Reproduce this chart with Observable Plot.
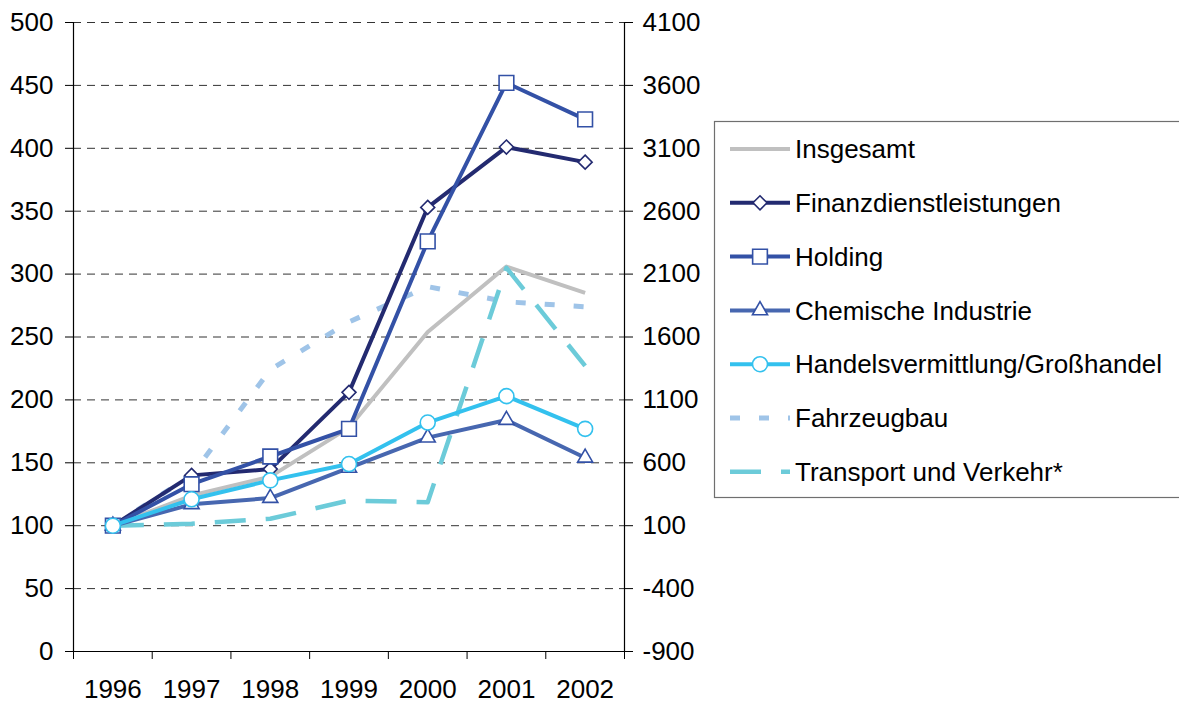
<!DOCTYPE html>
<html>
<head>
<meta charset="utf-8">
<script src="https://cdn.jsdelivr.net/npm/d3@7"></script>
<script src="https://cdn.jsdelivr.net/npm/@observablehq/plot@0.6"></script>
<style>
  html, body { margin: 0; padding: 0; background: #fff; }
  #chart { width: 1179px; height: 702px; }
</style>
</head>
<body>
<div id="chart"></div>
<script>
// ---- data ----
const years = [1996, 1997, 1998, 1999, 2000, 2001, 2002];
const insgesamt = [100, 124, 139, 178, 254, 306, 285];
const finanz = [100, 140, 145, 206, 353, 401, 389];
const holding = [100, 133, 155, 177, 326, 452, 423];
const chemie = [100, 117, 122, 146, 170, 184, 154];
const handel = [100, 121, 136, 149, 182, 203, 177];
const fahrzeug = [100, 140, 224, 262, 290, 278, 274];
// Transport und Verkehr is read on the right axis
const transportRight = [100, 115, 155, 300, 287, 2150, 1370];

const leftTicks = [0, 50, 100, 150, 200, 250, 300, 350, 400, 450, 500];
const rightTickLabels = [-900, -400, 100, 600, 1100, 1600, 2100, 2600, 3100, 3600, 4100];
const gridTicks = [50, 100, 150, 200, 250, 300, 350, 400, 450, 500];
const xDomain = [1995.5, 2002.5];
const xBoundaries = [1995.5, 1996.5, 1997.5, 1998.5, 1999.5, 2000.5, 2001.5, 2002.5];

// right axis = left * 10 - 900  =>  left = (right + 900) / 10
const toLeft = r => (r + 900) / 10;
const rightLabel = v => String(rightTickLabels[leftTicks.indexOf(v)] ?? (v * 10 - 900));

const rows = arr => years.map((year, i) => ({year, value: arr[i]}));

const series = [
  {name: "Insgesamt", data: rows(insgesamt), color: "#c0c0c0", width: 4, dash: null, symbol: null},
  {name: "Finanzdienstleistungen", data: rows(finanz), color: "#232a70", width: 4, dash: null, symbol: "diamond2", r: 6.3, mstroke: "#232a70"},
  {name: "Holding", data: rows(holding), color: "#3351a6", width: 4, dash: null, symbol: "square", r: 8.3, mstroke: "#3351a6"},
  {name: "Chemische Industrie", data: rows(chemie), color: "#4767b0", width: 4, dash: null, symbol: "triangle", r: 5.6, mstroke: "#3351a6"},
  {name: "Handelsvermittlung/Großhandel", data: rows(handel), color: "#33c1ee", width: 4, dash: null, symbol: "circle", r: 7.5, mstroke: "#33c1ee"},
  {name: "Fahrzeugbau", data: rows(fahrzeug), color: "#9fc4e8", width: 5, dash: "10,19", symbol: null},
  {name: "Transport und Verkehr*", data: rows(transportRight.map(toLeft)), color: "#6ccbd9", width: 4.5, dash: "31,20", symbol: null}
];

const drawOrder = [0, 5, 6, 1, 2, 3, 4];
const seriesMarks = drawOrder.flatMap(i => {
  const s = series[i];
  const m = [Plot.line(s.data, {x: "year", y: "value", stroke: s.color, strokeWidth: s.width,
    strokeDasharray: s.dash, strokeLinejoin: "round", strokeLinecap: "butt"})];
  if (s.symbol) m.push(Plot.dot(s.data, {x: "year", y: "value", symbol: () => s.symbol, r: s.r,
    fill: "white", stroke: s.mstroke, strokeWidth: 1.6}));
  return m;
});

const plot = Plot.plot({
  width: 1179, height: 702,
  marginLeft: 73, marginRight: 555, marginTop: 22, marginBottom: 51,
  x: {domain: xDomain},
  y: {domain: [0, 500]},
  symbol: {type: "identity"},
  style: {fontFamily: "'Liberation Sans', Arial, sans-serif", fontSize: "26px", color: "#000", background: "#fff", overflow: "visible"},
  marks: [
    Plot.ruleY(gridTicks, {stroke: "#333", strokeDasharray: "8,6", strokeWidth: 1}),
    Plot.ruleX(xDomain, {stroke: "#000", strokeWidth: 1.2}),
    Plot.ruleY([0], {stroke: "#000", strokeWidth: 1.2}),
    Plot.axisY({ticks: leftTicks, anchor: "left", tickSize: 8, tickPadding: 12, label: null}),
    Plot.axisY({ticks: leftTicks, anchor: "right", tickSize: 8, tickPadding: 10, label: null, tickFormat: rightLabel}),
    Plot.axisX({ticks: years, tickSize: 0, tickPadding: 28, label: null, tickFormat: d => String(d)}),
    Plot.axisX({ticks: xBoundaries, tickSize: 8, label: null, tickFormat: () => ""}),
    ...seriesMarks
  ]
});

document.getElementById("chart").appendChild(plot);

// ---- legend (inside the right margin of the SVG) ----
const svg = d3.select(plot);
const lg = svg.append("g")
  .attr("font-family", "'Liberation Sans', Arial, sans-serif")
  .attr("font-size", 26)
  .attr("text-anchor", "start");
lg.append("rect").attr("x", 714.5).attr("y", 121.5).attr("width", 480).attr("height", 376)
  .attr("fill", "white").attr("stroke", "#6f6f6f").attr("stroke-width", 1.2);
const symMap = {diamond2: d3.symbolDiamond2, square: d3.symbolSquare, triangle: d3.symbolTriangle, circle: d3.symbolCircle};
series.forEach((s, i) => {
  const y = 149 + i * 53.8;
  const g = lg.append("g").attr("transform", `translate(0,${y})`);
  g.append("line").attr("x1", 730).attr("x2", 790).attr("y1", 0).attr("y2", 0)
    .attr("stroke", s.color).attr("stroke-width", s.width)
    .attr("stroke-dasharray", s.dash).attr("stroke-linecap", "butt");
  if (s.symbol) {
    g.append("path").attr("transform", "translate(760,0)")
      .attr("d", d3.symbol(symMap[s.symbol], Math.PI * s.r * s.r)())
      .attr("fill", "white").attr("stroke", s.mstroke).attr("stroke-width", 1.6);
  }
  g.append("text").attr("x", 795).attr("y", 0).attr("dy", "0.35em")
    .attr("text-anchor", "start").attr("fill", "#000").text(s.name);
});
</script>
</body>
</html>
